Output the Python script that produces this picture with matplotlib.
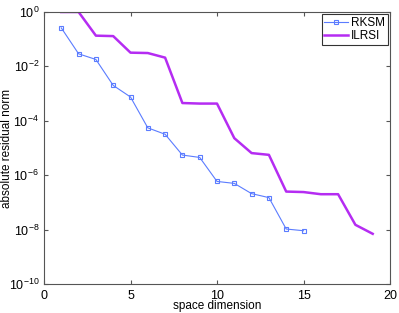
import numpy as np
import matplotlib
matplotlib.use('Agg')
import matplotlib.pyplot as plt

# data
dims_rksm = [1, 2, 3, 4, 5, 6, 7, 8, 9, 10, 11, 12, 13, 14, 15]
res_rksm = [0.26, 0.029, 0.018, 2.0e-3, 7.5e-4, 5.5e-5, 3.2e-5, 5.5e-6,
            4.5e-6, 5.9e-7, 5.0e-7, 2.1e-7, 1.5e-7, 1.05e-8, 9.1e-9]

dims_ilrsi = [1, 2, 3, 4, 5, 6, 7, 8, 9, 10, 11, 12, 13, 14, 15, 16, 17, 18, 19]
res_ilrsi = [1.0, 1.0, 0.135, 0.13, 0.032, 0.031, 0.021, 4.5e-4, 4.3e-4,
             4.3e-4, 2.3e-5, 6.5e-6, 5.6e-6, 2.5e-7, 2.4e-7, 2.0e-7, 2.0e-7,
             1.5e-8, 7e-9]

xticks = [0, 5, 10, 15, 20]
yticks = [1e-10, 1e-8, 1e-6, 1e-4, 1e-2, 1e0]

plt.rcParams['font.family'] = ['Liberation Sans', 'DejaVu Sans']

fig = plt.figure(figsize=(3.99, 3.13), dpi=100)
ax = fig.add_axes([44 / 399, 1 - 284 / 313, 346 / 399, 272 / 313])

ax.semilogy(dims_rksm, res_rksm, '-s', color='#5b7cff', lw=0.8,
            markersize=3.2, markerfacecolor='none', markeredgewidth=0.8, label='RKSM')
ax.semilogy(dims_ilrsi, res_ilrsi, '-', color='#b52cf2', lw=1.8, label='ILRSI')

ax.set_xlim(0, 20)
ax.set_ylim(1e-10, 1e0)
ax.set_xticks(xticks)
ax.set_yticks(yticks)
ax.minorticks_off()
ax.tick_params(direction='in', length=3, labelsize=9, top=True, right=True,
               color='#555555')
ax.tick_params(axis='x', pad=4)
for s in ax.spines.values():
    s.set_color('#555555')
    s.set_linewidth(0.8)

ax.set_xlabel('space dimension', fontsize=8.5)
ax.set_ylabel('absolute residual norm', fontsize=8.5)
ax.xaxis.set_label_coords(0.5, -0.06)
ax.yaxis.set_label_coords(-0.09, 0.5)

leg = ax.legend(loc='upper right', fontsize=8.5, fancybox=False,
                borderaxespad=0.2, handlelength=2.0, borderpad=0.2,
                labelspacing=0.15, handletextpad=0.3)
leg.get_frame().set_edgecolor('black')
leg.get_frame().set_linewidth(0.8)

fig.savefig('out.png', dpi=100)
